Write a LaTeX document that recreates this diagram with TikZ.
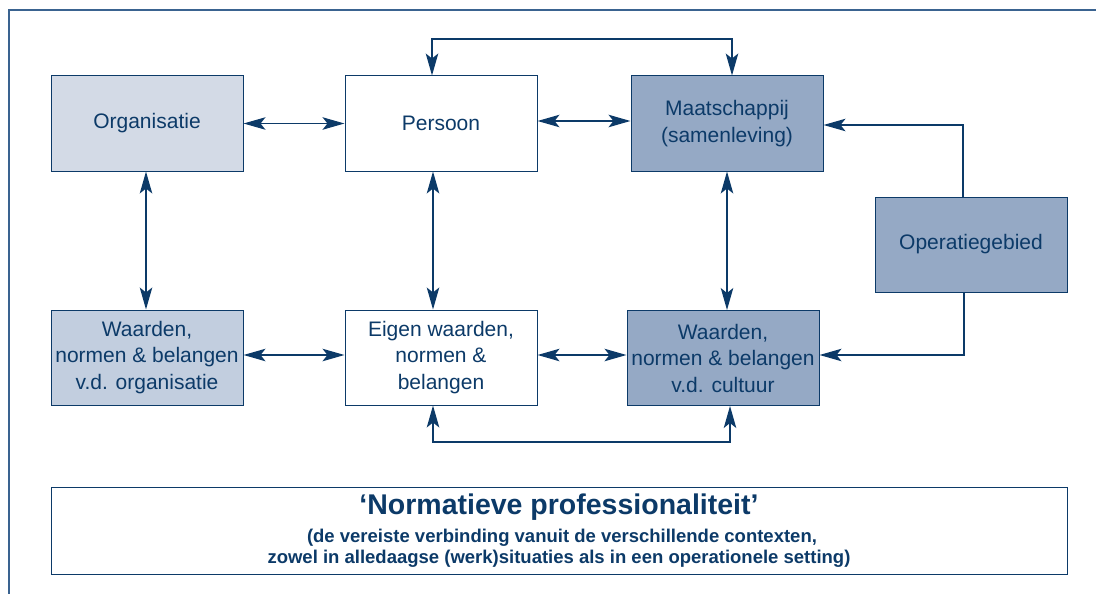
\documentclass[tikz,border=0pt]{standalone}
\usepackage{fontspec}
\setmainfont{Liberation Sans}
\usetikzlibrary{arrows.meta}
\definecolor{navy}{HTML}{0C3A68}
\definecolor{framec}{HTML}{3A6390}
\definecolor{fillA}{HTML}{D3DAE6}
\definecolor{fillB}{HTML}{C2CEDF}
\definecolor{fillC}{HTML}{95A9C5}
\tikzset{
  box/.style={draw=navy, line width=1pt, minimum width=192pt, minimum height=95pt,
    align=center, text=navy, inner sep=0pt, font=\fontsize{21}{26.5}\selectfont},
  dbl/.style={draw=navy, line width=1.3pt, {Stealth[length=22pt,width=12.5pt,inset=5pt]}-{Stealth[length=22pt,width=12.5pt,inset=5pt]}},
  sgl/.style={draw=navy, line width=1.3pt, -{Stealth[length=22pt,width=12.5pt,inset=5pt]}},
}
\begin{document}
\begin{tikzpicture}[x=1pt,y=-1pt]
\useasboundingbox (0,0) rectangle (1096,594);
\draw[framec, line width=1.5pt] (9,594) -- (9,10) -- (1096,10);

\node[box, fill=fillA] (org) at (147,123.5) {Organisatie};
\node[box, fill=white] (per) at (441,123.5) {Persoon};
\node[box, fill=fillC] (maat) at (727,123.5) {Maatschappij\\(samenleving)};
\node[box, fill=fillC] (oper) at (971,244.5) {Operatiegebied};
\node[box, fill=fillB] (worg) at (147,357.5) {Waarden,\\normen \& belangen\\v.d. organisatie};
\node[box, fill=white] (eig) at (441,357.5) {Eigen waarden,\\normen \&\\belangen};
\node[box, fill=fillC] (cult) at (723,358) {Waarden,\\normen \& belangen\\v.d. cultuur};

\node[draw=navy, line width=1pt, minimum width=1016pt, minimum height=87pt, inner sep=0pt] (np) at (559,530.5) {};
\node[anchor=base, text=navy, inner sep=0pt, font=\fontsize{28.5}{30}\selectfont\bfseries] (npt) at (559,514) {‘Normatieve professionaliteit’};
\node[anchor=base, text=navy, inner sep=0pt, font=\fontsize{18.5}{21}\selectfont\bfseries] (nps1) at (562,542) {(de vereiste verbinding vanuit de verschillende contexten,};
\node[anchor=base, text=navy, inner sep=0pt, font=\fontsize{18.5}{21}\selectfont\bfseries] (nps2) at (559,563) {zowel in alledaagse (werk)situaties als in een operationele setting)};

% horizontal
\draw[dbl] (org.east) -- (per.west);
\draw[dbl] ([yshift=2.5pt]per.east) -- ([yshift=2.5pt]maat.west);
\draw[dbl] ([yshift=2.5pt]worg.east) -- ([yshift=2.5pt]eig.west);
\draw[dbl] ([yshift=2.5pt]eig.east) -- ([yshift=3pt]cult.west);
% vertical
\draw[dbl] ([xshift=-1pt]org.south) -- ([xshift=-1pt]worg.north);
\draw[dbl] ([xshift=-8pt]per.south) -- ([xshift=-8pt]eig.north);
\draw[dbl] (maat.south) -- (maat.south |- cult.north);
% loops
\coordinate (tl) at (432,39);
\draw[dbl] ([xshift=-9pt]per.north) -- (tl) -| ([xshift=5pt]maat.north);
\coordinate (bl) at (433,442);
\draw[dbl] ([xshift=-8pt]eig.south) -- (bl) -| ([xshift=7pt]cult.south);
% operatiegebied
\draw[sgl] ([xshift=-8pt]oper.north) |- ([yshift=-1.5pt]maat.east);
\draw[sgl] ([xshift=-7pt]oper.south) |- ([yshift=3pt]cult.east);
\end{tikzpicture}
\end{document}
